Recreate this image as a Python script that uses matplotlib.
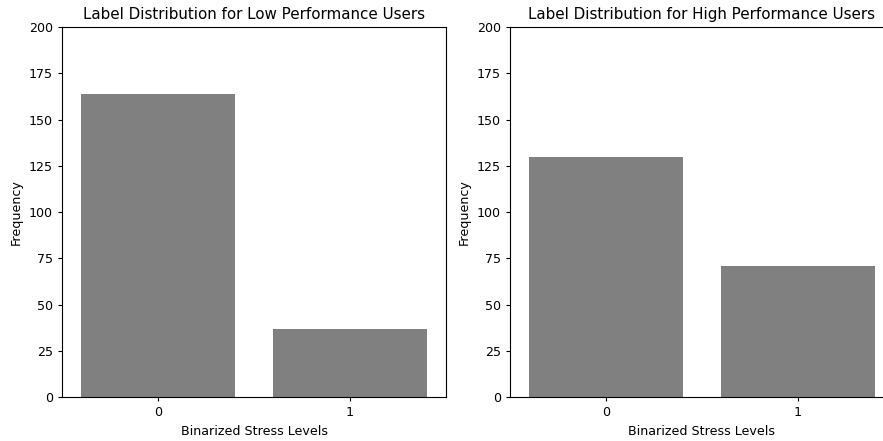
import matplotlib
matplotlib.use("Agg")
import matplotlib.pyplot as plt
import numpy as np

# --- dados ---
stress_levels = ["0", "1"]
low_counts = [164, 37]
high_counts = [130, 71]
titles = ["Label Distribution for Low Performance Users",
          "Label Distribution for High Performance Users"]

plt.rcParams.update({
    "font.size": 9.1,
    "axes.titlesize": 10.9,
    "axes.labelsize": 9.1,
    "xtick.labelsize": 9.1,
    "ytick.labelsize": 9.1,
    "xtick.major.size": 3.2,
    "ytick.major.size": 3.2,
})

W, H = 883, 441
fig = plt.figure(figsize=(W / 100, H / 100), dpi=100)
# posicoes em pixels (a figura original foi cortada na direita)
ax1 = fig.add_axes([62 / W, (H - 397) / H, 384 / W, 370 / H])
ax2 = fig.add_axes([510 / W, (H - 397) / H, 384 / W, 370 / H])

for ax, counts, title in zip([ax1, ax2], [low_counts, high_counts], titles):
    x = np.arange(len(stress_levels))
    ax.bar(x, counts, width=0.8, color="gray")
    ax.set_xticks(x)
    ax.set_xticklabels(stress_levels)
    ax.set_xlim(-0.5, 1.5)
    ax.set_ylim(0, 200)
    ax.set_title(title)
    ax.set_xlabel("Binarized Stress Levels")
    ax.set_ylabel("Frequency")

fig.savefig("out.png")
